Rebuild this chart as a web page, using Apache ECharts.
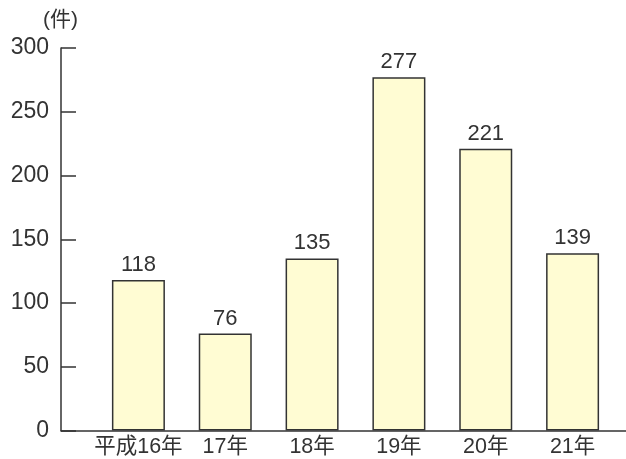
<!DOCTYPE html>
<html><head><meta charset="utf-8">
<script src="https://cdn.jsdelivr.net/npm/echarts@6/dist/echarts.min.js"></script>
<style>html,body{margin:0;padding:0;background:#fff}#c{width:626px;height:459px}</style>
</head><body><div id="c"></div>
<script>
const categories = ['平成16年','17年','18年','19年','20年','21年'];
const values = [118, 76, 135, 277, 221, 139];
const yTicks = [0, 50, 100, 150, 200, 250, 300];
const unitLabel = '(件)';

const FONT = '"Liberation Sans", "Noto Sans CJK JP", sans-serif';
const TXT = '#333';
const chart = echarts.init(document.getElementById('c'));
chart.setOption({
  animation: false,
  title: { text: unitLabel, left: 38, top: 5, textStyle: { fontFamily: FONT, fontSize: 21, fontWeight: 'normal', color: TXT } },
  grid: [
    { left: 61, right: 0, top: 48, bottom: 28.5 },
    { left: 95, right: 10, top: 48, bottom: 28.5 }
  ],
  xAxis: [
    { type: 'value', gridIndex: 0, min: 0, max: 1, axisLine: { show: true, lineStyle: { color: TXT, width: 1.5 } },
      axisTick: { show: false }, axisLabel: { show: false }, splitLine: { show: false } },
    { type: 'category', gridIndex: 1, data: categories,
      axisLine: { show: false }, axisTick: { show: false }, splitLine: { show: false },
      axisLabel: { interval: 0, color: TXT, fontFamily: FONT, fontSize: 21.5, margin: 6 } }
  ],
  yAxis: [
    { type: 'value', gridIndex: 0, min: yTicks[0], max: yTicks[yTicks.length-1], interval: 50,
      axisLine: { show: true, lineStyle: { color: TXT, width: 1.5 } },
      axisTick: { show: true, inside: true, length: 15, lineStyle: { color: TXT, width: 1.5 } },
      axisLabel: { color: TXT, fontFamily: FONT, fontSize: 23, margin: 12 },
      splitLine: { show: false } },
    { type: 'value', gridIndex: 1, min: yTicks[0], max: yTicks[yTicks.length-1], interval: 50, show: false, splitLine: { show: false } }
  ],
  series: [{
    type: 'bar', xAxisIndex: 1, yAxisIndex: 1, data: values, barWidth: 53,
    itemStyle: { color: '#FFFCD3', borderColor: '#333', borderWidth: 1.5 },
    label: { show: true, position: 'top', distance: 4, color: TXT, fontFamily: FONT, fontSize: 22 }
  }]
});
</script></body></html>
